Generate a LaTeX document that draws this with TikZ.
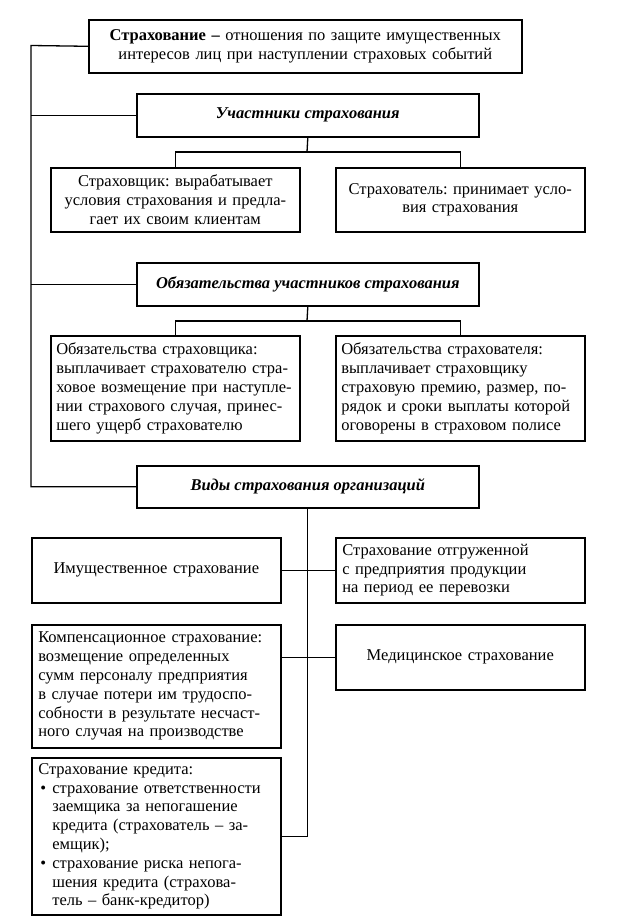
\documentclass[tikz,border=0pt]{standalone}
\usepackage{fontspec}
\setmainfont{Liberation Serif}
\frenchspacing
\newcommand\bul{\makebox[14pt][l]{\hspace*{2pt}\textbullet}}
\newcommand\ind{\hspace*{14pt}}
\begin{document}
\begin{tikzpicture}[x=1pt,y=-1pt,
  every node/.style={font=\fontsize{16.5}{18.8}\selectfont\frenchspacing},
  box/.style={draw, line width=1.6pt, inner sep=0pt, anchor=north west},
  cbox/.style={box, align=center},
  lbox/.style={box, align=left},
  hbox/.style={box, align=center, font=\fontsize{16.5}{18.8}\selectfont\bfseries\itshape},
  conn/.style={line width=1.3pt}]
\useasboundingbox (0,0) rectangle (634,923);
% boxes
\node[cbox, minimum width=433pt, minimum height=53pt, text width=428pt] (top) at (88,19)
  {\textbf{Страхование –} отношения по защите имущественных\\интересов лиц при наступлении страховых событий};
\node[hbox, minimum width=342pt, minimum height=43pt] (uch) at (136,93) {Участники страхования};
\node[cbox, minimum width=249pt, minimum height=64pt, text width=242pt] (sk) at (50,167)
  {Страховщик: вырабатывает\\условия страхования и предла-\\гает их своим клиентам};
\node[cbox, minimum width=249pt, minimum height=64pt, text width=242pt] (sl) at (335,167)
  {Страхователь: принимает усло-\\вия страхования};
\node[hbox, minimum width=342pt, minimum height=43pt] (obz) at (136,262) {Обязательства участников страхования};
\node[lbox, minimum width=249pt, minimum height=105pt, text width=238pt] (osk) at (50,335)
  {Обязательства страховщика:\\выплачивает страхователю стра-\\ховое возмещение при наступле-\\нии страхового случая, принес-\\шего ущерб страхователю};
\node[lbox, minimum width=249pt, minimum height=105pt, text width=238pt] (osl) at (335,335)
  {Обязательства страхователя:\\выплачивает страховщику\\страховую премию, размер, по-\\рядок и сроки выплаты которой\\оговорены в страховом полисе};
\node[hbox, minimum width=342pt, minimum height=42pt] (vid) at (136,465) {Виды страхования организаций};
\node[cbox, minimum width=249pt, minimum height=65pt, text width=240pt] (im) at (31,537)
  {Имущественное страхование};
\node[lbox, minimum width=249pt, minimum height=65pt, text width=236pt] (otg) at (335,537)
  {Страхование отгруженной\\с предприятия продукции\\на период ее перевозки};
\node[lbox, minimum width=249pt, minimum height=123pt, text width=236pt] (komp) at (31,624)
  {Компенсационное страхование:\\возмещение определенных\\сумм персоналу предприятия\\в случае потери им трудоспо-\\собности в результате несчаст-\\ного случая на производстве};
\node[cbox, minimum width=249pt, minimum height=65pt, text width=240pt] (med) at (335,624)
  {Медицинское страхование};
\node[lbox, minimum width=249pt, minimum height=157pt, text width=236pt] (kred) at (31,757)
  {Страхование кредита:\\
   \bul страхование ответственности\\
   \ind заемщика за непогашение\\
   \ind кредита (страхователь – за-\\
   \ind емщик);\\
   \bul страхование риска непога-\\
   \ind шения кредита (страхова-\\
   \ind тель – банк-кредитор)};
% connectors
\coordinate (L1) at (31,45.5);
\coordinate (bar1) at (307,152);
\coordinate (bar2) at (307,321);
\draw[conn] (top.west) -- (L1) |- (vid.west);
\draw[conn] (uch.west) -- (uch.west -| L1);
\draw[conn] (obz.west) -- (obz.west -| L1);
\draw[conn] (uch.south) -- (bar1);
\draw[conn] (sk.north) |- (bar1) -| (sl.north);
\draw[conn] (obz.south) -- (bar2);
\draw[conn] (osk.north) |- (bar2) -| (osl.north);
\draw[conn] (vid.south) |- (kred.east);
\draw[conn] (im.east) -- (otg.west);
\draw[conn] (med.west) -- (med.west -| komp.east);
\end{tikzpicture}
\end{document}
